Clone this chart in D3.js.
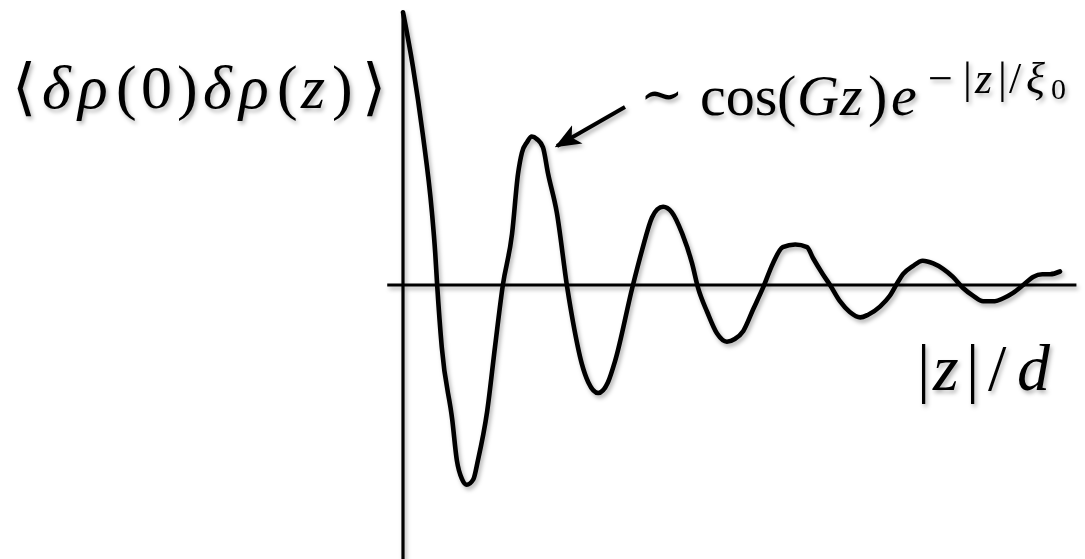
<!DOCTYPE html>
<html>
<head>
<meta charset="utf-8">
<script src="https://cdn.jsdelivr.net/npm/d3@7"></script>
<style>
  html, body { margin: 0; padding: 0; background: #fff; }
  svg { display: block; }
  text { font-family: "Liberation Serif", "DejaVu Serif", serif; fill: #000; }
</style>
</head>
<body>
<svg id="chart" width="1085" height="559"></svg>
<script>
// Density–density correlation vs. distance |z|/d (damped oscillation)
const zOverD = [0, 0.15, 0.30, 0.44, 0.49, 0.52, 0.59, 0.75, 0.82, 0.90, 0.97, 1.07, 1.14, 1.28, 1.40, 1.52,
  1.66, 1.75, 1.81, 1.89, 1.96, 2.04, 2.13, 2.21, 2.34, 2.50, 2.59, 2.72, 2.82, 2.97, 3.12, 3.23,
  3.49, 3.64, 3.79, 3.87, 3.96, 4.09, 4.25, 4.40, 4.49, 4.63, 4.78, 4.93, 5.05, 5.18, 5.33, 5.48,
  5.63, 5.78, 5.97, 6.15, 6.24, 6.39, 6.50, 6.65, 6.80, 6.96, 7.08, 7.26, 7.41, 7.53, 7.61, 7.76,
  7.91, 8.07, 8.22, 8.37, 8.52, 8.68, 8.83, 9.01, 9.13, 9.28, 9.44, 9.59, 9.73, 9.85, 10.0];
const correlation = [1.01, 0.81, 0.56, 0.27, 0.12, 0, -0.23, -0.50, -0.65, -0.72, -0.74, -0.72, -0.65, -0.47, -0.23, 0,
  0.19, 0.41, 0.49, 0.53, 0.55, 0.54, 0.51, 0.41, 0.27, -0.01, -0.14, -0.29, -0.36, -0.40, -0.36, -0.28,
  -0.01, 0.13, 0.25, 0.28, 0.29, 0.27, 0.19, 0.08, -0.01, -0.10, -0.18, -0.21, -0.20, -0.17, -0.09, -0.01,
  0.08, 0.14, 0.15, 0.14, 0.10, 0.04, 0, -0.06, -0.10, -0.12, -0.11, -0.08, -0.04, 0.01, 0.04, 0.07,
  0.09, 0.08, 0.06, 0.03, -0.01, -0.04, -0.06, -0.06, -0.05, -0.03, 0, 0.03, 0.04, 0.04, 0.05];

// Axis extents in data units
const xAxisExtent = [-0.24, 10.25];
const yAxisExtent = [1.01, -1.02];

const svg = d3.select("#chart");

// Soft shadow under every drawn element
const defs = svg.append("defs");
const shadow = defs.append("filter").attr("id", "shadow")
  .attr("x", "-10%").attr("y", "-10%").attr("width", "130%").attr("height", "130%");
shadow.append("feDropShadow")
  .attr("dx", 2).attr("dy", 3).attr("stdDeviation", 2.2)
  .attr("flood-color", "#000").attr("flood-opacity", 0.3);

const x = d3.scaleLinear().domain([0, 10]).range([403, 1060]);
const y = d3.scaleLinear().domain([-1, 1]).range([555, 15]);

const g = svg.append("g").attr("filter", "url(#shadow)");

// Axes
g.append("line")
  .attr("x1", x(0)).attr("x2", x(0))
  .attr("y1", y(yAxisExtent[0])).attr("y2", y(yAxisExtent[1]))
  .attr("stroke", "#000").attr("stroke-width", 3.2);
g.append("line")
  .attr("x1", x(xAxisExtent[0])).attr("x2", x(xAxisExtent[1]))
  .attr("y1", y(0)).attr("y2", y(0))
  .attr("stroke", "#000").attr("stroke-width", 3.2);

// Curve
const pts = zOverD.map((v, i) => [v, correlation[i]]);
g.append("path")
  .datum(pts)
  .attr("d", d3.line().x(d => x(d[0])).y(d => y(d[1])).curve(d3.curveMonotoneX))
  .attr("fill", "none")
  .attr("stroke", "#000")
  .attr("stroke-width", 4.6)
  .attr("stroke-linejoin", "round")
  .attr("stroke-linecap", "round");

// Arrow pointing at the first maximum
defs.append("marker").attr("id", "head")
  .attr("viewBox", "0 0 10 10").attr("refX", 9).attr("refY", 5)
  .attr("markerWidth", 6.5).attr("markerHeight", 6.5)
  .attr("markerUnits", "strokeWidth")
  .attr("orient", "auto")
  .append("path").attr("d", "M0,1 L10,5 L0,9 L2.5,5 Z").attr("fill", "#000");
g.append("line")
  .attr("x1", 625).attr("y1", 107)
  .attr("x2", 557).attr("y2", 146)
  .attr("stroke", "#000").attr("stroke-width", 4)
  .attr("marker-end", "url(#head)");

// Helper: typeset a formula glyph by glyph — [text, x, italic, size?, dy?, family?]
function formula(parent, y0, size, glyphs) {
  const grp = parent.append("g");
  glyphs.forEach(([s, gx, it, sz, dy, fam]) => {
    const t = grp.append("text")
      .attr("x", gx).attr("y", y0 + (dy || 0))
      .attr("font-size", sz || size)
      .text(s);
    if (it) t.attr("font-style", "italic");
    if (fam) t.style("font-family", fam);
  });
  return grp;
}

// Y label
formula(g, 108, 62, [
  ["⟨", 12, 0], ["δ", 42, 1], ["ρ", 78, 1], ["(", 116, 0], ["0", 141, 0], [")", 177, 0],
  ["δ", 203, 1], ["ρ", 239, 1], ["(", 277, 0], ["z", 301, 1], [")", 332, 0], ["⟩", 362, 0]
]);

// Asymptotic form annotation
formula(g, 115, 58, [
  ["∼", 640, 0, 52, -3, "'DejaVu Serif', serif"],
  ["cos", 700, 0], ["(", 777, 0], ["G", 797, 1], ["z", 840, 1], [")", 868, 0], ["e", 891, 1],
  ["−", 928, 0, 44, -22], ["|", 963, 0, 44, -22], ["z", 975, 1, 44, -22],
  ["|", 998, 0, 44, -22], ["/", 1009, 0, 44, -22], ["ξ", 1026, 1, 44, -22],
  ["0", 1051, 0, 30, -16]
]);

// X label
formula(g, 390, 66, [
  ["|", 917, 0], ["z", 933, 1], ["|", 966, 0], ["/", 988, 0], ["d", 1017, 1]
]);
</script>
</body>
</html>
